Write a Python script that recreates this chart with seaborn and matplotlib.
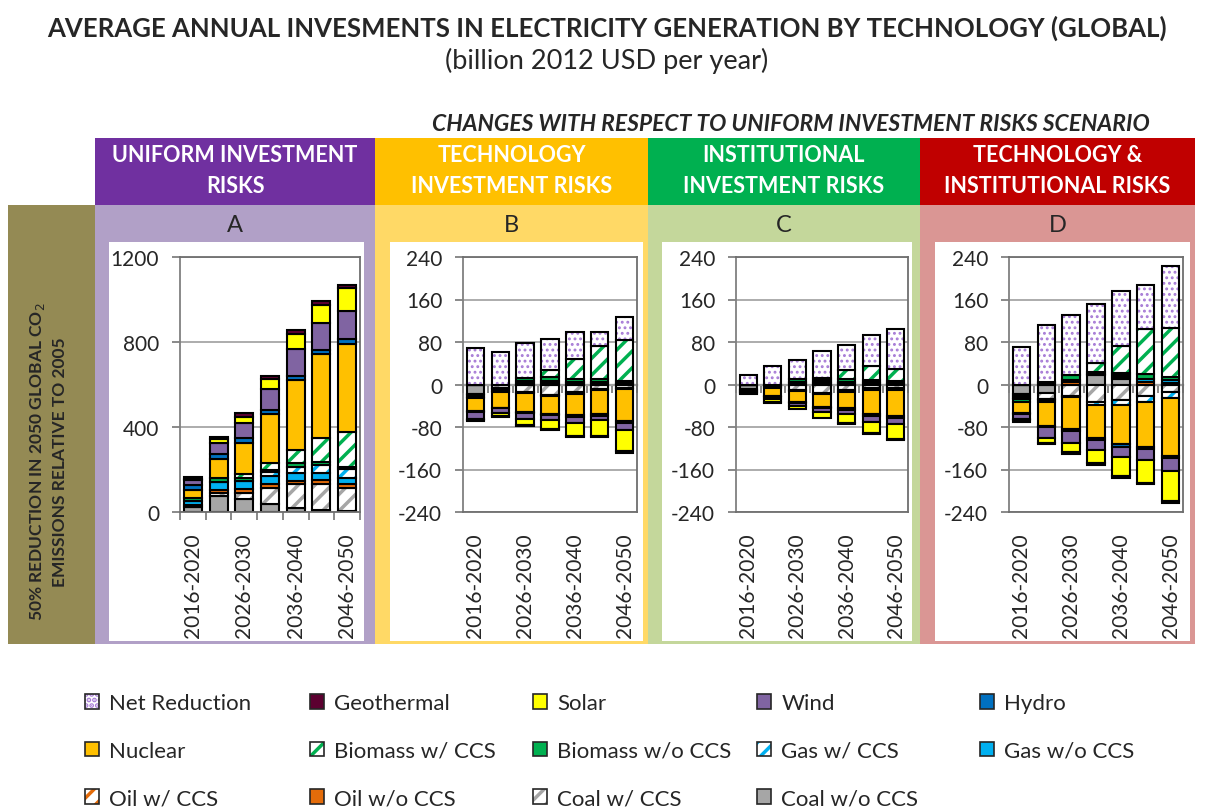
import numpy as np
import pandas as pd
import seaborn as sns
import matplotlib.pyplot as plt
from matplotlib.patches import Patch, Rectangle

periods = ["2016-2020", "2021-2025", "2026-2030", "2031-2035",
           "2036-2040", "2041-2045", "2046-2050"]
tick_labels = ["2016-2020", "", "2026-2030", "", "2036-2040", "", "2046-2050"]
panels = ["A", "B", "C", "D"]
headers = ["UNIFORM INVESTMENT\nRISKS", "TECHNOLOGY\nINVESTMENT RISKS",
           "INSTITUTIONAL\nINVESTMENT RISKS", "TECHNOLOGY &\nINSTITUTIONAL RISKS"]

# rows: A = uniform risks (levels), B/C/D = change vs A ; columns = periods
coal_wo = np.array([[25, 75, 60, 36, 20, 9, 5],
                    [-18, -1, 0, 0, 0, 0, 0],
                    [-8, 0, 0, 0, 0, 0, 0],
                    [-18, -16, 0, 17, 11, 0, 0]])
coal_w = np.array([[0, 16, 31, 79, 113, 121, 110],
                   [0, -6, -14, -20, -14, -8, -6],
                   [0, -3, -11, -16, -11, -6, -6],
                   [0, -11, -21, -33, -30, -21, -14]])
oil_wo = np.array([[8, 13, 19, 16, 13, 20, 16],
                   [-2, -2, 3, 3, 2, 2, 1],
                   [-2, -1, 2, 2, 2, 2, 1],
                   [-3, 2, 4, 2, 3, 5, 3]])
oil_w = np.zeros((4, 7))
gas_wo = np.array([[20, 35, 36, 39, 39, 35, 27],
                   [-3, -3, 3, 4, 3, 3, 2],
                   [-3, -2, 3, 2, 3, 3, 2],
                   [-4, -3, 5, 1, 3, 6, 5]])
gas_w = np.array([[0, 0, 0, 16, 27, 35, 44],
                  [0, 0, -2, -2, -3, -3, -3],
                  [0, 0, -2, -2, -3, -4, -4],
                  [-3, -2, -3, -5, -8, -11, -12]])
bio_wo = np.array([[12, 20, 16, 13, 17, 16, 11],
                   [-3, -2, 6, 7, 5, 5, 3],
                   [-2, 0, 6, 4, 5, 4, 3],
                   [-4, 3, 8, 3, 5, 8, 6]])
bio_w = np.array([[0, 0, 15, 30, 63, 112, 162],
                  [0, 0, 0, 13, 38, 62, 77],
                  [0, 0, 0, 5, 18, 25, 24],
                  [0, 0, 0, 18, 50, 86, 92]])
nuclear = np.array([[40, 90, 149, 230, 329, 396, 417],
                    [-24, -30, -35, -33, -40, -44, -60],
                    [0, -16, -20, -24, -31, -46, -50],
                    [-21, -46, -60, -62, -74, -85, -109]])
hydro = np.array([[20, 24, 20, 19, 20, 19, 24],
                  [-1, -1, -3, -3, -4, -4, -4],
                  [0, -1, -2, -2, -3, -3, -3],
                  [-3, -2, -4, -4, -5, -4, -4]])
wind = np.array([[26, 52, 74, 99, 126, 127, 131],
                 [-13, -9, -11, -9, -11, -8, -12],
                 [-1, -5, -6, -8, -8, -11, -11],
                 [-8, -20, -22, -19, -20, -21, -24]])
solar = np.array([[4, 19, 28, 47, 71, 85, 105],
                  [-2, -6, -11, -17, -25, -30, -41],
                  [0, -5, -6, -11, -16, -22, -29],
                  [-3, -10, -17, -25, -36, -43, -57]])
geothermal = np.array([[8, 11, 16, 16, 20, 19, 16],
                       [-3, -2, -2, -1, -2, -2, -2],
                       [-1, -2, 0, 0, -2, -2, -2],
                       [-4, -2, -3, -3, -3, -3, -3]])
net_reduction = np.array([[0, 0, 0, 0, 0, 0, 0],
                          [69, 62, 66, 58, 51, 27, 45],
                          [17, 35, 36, 50, 46, 60, 75],
                          [71, 107, 113, 110, 104, 83, 117]])

# name, values, face colour, hatch, hatch colour  (stacking order)
series = [
    ("Coal w/o CCS", coal_wo, "#A6A6A6", None, None),
    ("Coal w/ CCS", coal_w, "white", "//", "#A6A6A6"),
    ("Oil w/o CCS", oil_wo, "#E46C0A", None, None),
    ("Oil w/ CCS", oil_w, "white", "//", "#E46C0A"),
    ("Gas w/o CCS", gas_wo, "#00B0F0", None, None),
    ("Gas w/ CCS", gas_w, "white", "//", "#00B0F0"),
    ("Biomass w/o CCS", bio_wo, "#00B050", None, None),
    ("Biomass w/ CCS", bio_w, "white", "//", "#00B050"),
    ("Nuclear", nuclear, "#FFC000", None, None),
    ("Hydro", hydro, "#0070C0", None, None),
    ("Wind", wind, "#8064A2", None, None),
    ("Solar", solar, "#FFFF00", None, None),
    ("Geothermal", geothermal, "#5C0030", None, None),
    ("Net Reduction", net_reduction, "white", "...", "#A77BD6"),
]

sns.set_style("white")
plt.rcParams["font.family"] = ["Lato", "DejaVu Sans"]
plt.rcParams["axes.unicode_minus"] = False
plt.rcParams["hatch.linewidth"] = 2.5

W, H = 1209, 812
fig = plt.figure(figsize=(W / 100, H / 100), dpi=100)


def box(x0, y0, x1, y1, color):
    fig.add_artist(Rectangle((x0 / W, 1 - y1 / H), (x1 - x0) / W, (y1 - y0) / H,
                             transform=fig.transFigure, facecolor=color,
                             edgecolor="none", zorder=-1))


def label(x, y, s, **kw):
    fig.text(x / W, 1 - y / H, s, ha="center", va="center", **kw)


header_colors = ["#7030A0", "#FFC000", "#00B050", "#C00000"]
light_colors = ["#B1A0C7", "#FFD966", "#C4D79B", "#DA9694"]
panel_x = [(95, 375), (375, 648), (648, 920), (920, 1195)]
white_x = [(109, 364), (390, 643), (662, 912), (935, 1190)]
axes_x = [(180, 360), (463, 637), (736, 908), (1009, 1183)]
grey = "#808080"

label(607, 28, "AVERAGE ANNUAL INVESMENTS IN ELECTRICITY GENERATION BY TECHNOLOGY (GLOBAL)",
      fontsize=18.5, fontweight="bold")
label(607, 61, "(billion 2012 USD per year)", fontsize=19.5)
label(791, 125, "CHANGES WITH RESPECT TO UNIFORM INVESTMENT RISKS SCENARIO",
      fontsize=16.5, fontweight="bold", style="italic")

box(8, 206, 95, 645, "#948A54")
label(48, 462, "50% REDUCTION IN 2050 GLOBAL CO$_2$\nEMISSIONS RELATIVE TO 2005",
      fontsize=12.5, fontweight="bold", rotation=90, linespacing=1.35)


def stack_panel(ax, k):
    up = np.zeros(len(periods))
    down = np.zeros(len(periods))
    for name, values, face, hatch, hcolor in series:
        v = values[k].astype(float)
        if not np.any(v):
            continue
        base = np.where(v >= 0, up, down)
        df = pd.DataFrame({"period": periods, "value": v})
        lw_hatch = 1.3 if hatch == "..." else 2.5
        with plt.rc_context({"hatch.linewidth": lw_hatch}):
            sns.barplot(data=df, x="period", y="value", order=periods, bottom=base,
                        color=face, saturation=1, width=0.7, errorbar=None,
                        hatch=hatch, edgecolor=hcolor or face, linewidth=0, ax=ax)
        sns.barplot(data=df, x="period", y="value", order=periods, bottom=base,
                    color="black", fill=False, width=0.7, errorbar=None,
                    linewidth=1.5, ax=ax)
        up = up + np.clip(v, 0, None)
        down = down + np.clip(v, None, 0)


for k, p in enumerate(panels):
    x0, x1 = panel_x[k]
    box(x0, 139, x1, 206, header_colors[k])
    box(x0, 206, x1, 645, light_colors[k])
    box(white_x[k][0], 243, white_x[k][1], 642, "white")
    label((x0 + x1) / 2, 171, headers[k], color="white", fontsize=15.5,
          fontweight="bold", linespacing=1.6)
    label((x0 + x1) / 2, 226, p, fontsize=17)

    ax0, ax1 = axes_x[k]
    ax = fig.add_axes([ax0 / W, 1 - 513 / H, (ax1 - ax0) / W, 255 / H])
    stack_panel(ax, k)
    ax.set_xlim(-0.5, 6.5)
    if k == 0:
        ax.set_ylim(0, 1200)
        ax.set_yticks([0, 400, 800, 1200])
    else:
        ax.set_ylim(-240, 240)
        ax.set_yticks(np.arange(-240, 241, 80))
        zero = ax.secondary_xaxis(0.5)
        zero.set_alignment("bottom")
        zero.set_xticks(np.arange(-0.5, 7, 1), labels=[])
        zero.tick_params(axis="x", direction="out", length=6, width=1.3, color=grey)
        zero.spines["bottom"].set_color(grey)
        zero.spines["bottom"].set_linewidth(1.6)
    ax.set_xticks(range(len(periods)), labels=tick_labels, rotation=90)
    if k == 0:
        ax.set_xticks(np.arange(-0.5, 7, 1), minor=True)
        ax.tick_params(axis="x", which="minor", direction="out", length=6,
                       width=1.3, color=grey, bottom=True)
    ax.tick_params(axis="x", which="major", length=0, pad=15, labelsize=15)
    ax.tick_params(axis="y", direction="out", length=6, width=1.3, color=grey,
                   pad=9, labelsize=15, left=True)
    ax.set_xlabel("")
    ax.set_ylabel("")
    ax.set_axisbelow(True)
    ax.yaxis.grid(True, color="#A6A6A6", linewidth=1.3)
    for side in ax.spines:
        ax.spines[side].set_visible(True)
        ax.spines[side].set_color("#6E6E6E")
        ax.spines[side].set_linewidth(1.3)
    ax.spines["left"].set_color(grey)

# legend, laid out column by column as in the original
styles = {name: (face, hatch, hcolor) for name, _, face, hatch, hcolor in series}
legend_cols = [
    ["Net Reduction", "Nuclear", "Oil w/ CCS"],
    ["Geothermal", "Biomass w/ CCS", "Oil w/o CCS"],
    ["Solar", "Biomass w/o CCS", "Coal w/ CCS"],
    ["Wind", "Gas w/ CCS", "Coal w/o CCS"],
    ["Hydro", "Gas w/o CCS"],
]
legend_x = [85, 310, 533, 757, 980]
for names, lx in zip(legend_cols, legend_x):
    handles = []
    for n in names:
        face, hatch, hcolor = styles[n]
        handles.append((Patch(facecolor=face, hatch=hatch, edgecolor=hcolor or face, linewidth=0),
                        Patch(facecolor="none", edgecolor="#262626", linewidth=1.2)))
    fig.legend(handles, names, loc="upper left", bbox_to_anchor=(lx / W, 1 - 694 / H),
               frameon=False, fontsize=16, handlelength=0.65, handleheight=0.65,
               handletextpad=0.45, labelspacing=1.25, borderpad=0, borderaxespad=0)

fig.savefig("out.png", dpi=100)
